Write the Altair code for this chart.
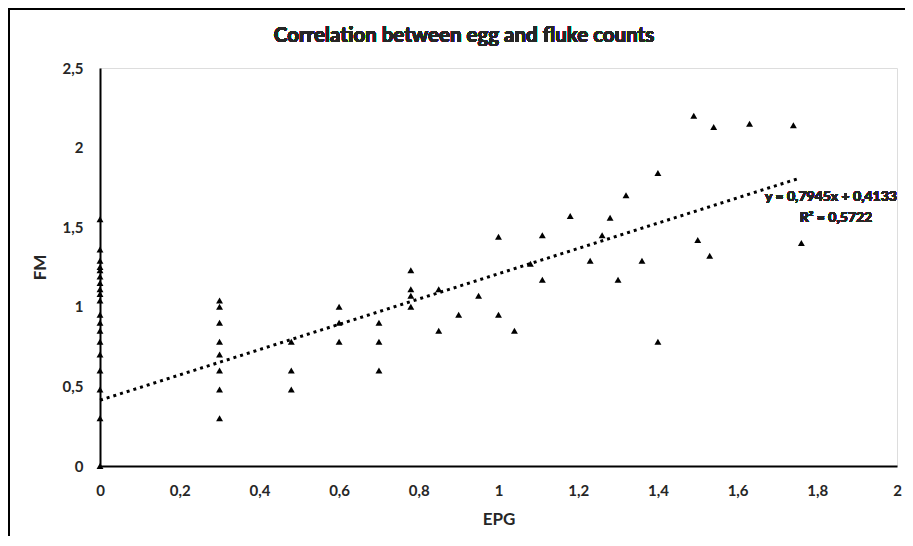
import altair as alt
import pandas as pd

# ---- data ----
EPG = ([0.0] * 19
       + [0.30] * 8
       + [0.48] * 3
       + [0.60] * 3
       + [0.70] * 3
       + [0.78] * 4
       + [0.85] * 2
       + [0.90, 0.95]
       + [1.00] * 2
       + [1.04, 1.08]
       + [1.11] * 2
       + [1.18, 1.23, 1.26, 1.28, 1.30, 1.32, 1.36]
       + [1.40] * 2
       + [1.49, 1.50, 1.53, 1.54, 1.63, 1.74, 1.76])
FM = ([1.55, 1.36, 1.29, 1.25, 1.23, 1.19, 1.15, 1.11, 1.08, 1.04,
       0.95, 0.90, 0.85, 0.78, 0.70, 0.60, 0.48, 0.30, 0.00]
      + [1.04, 1.00, 0.90, 0.78, 0.70, 0.60, 0.48, 0.30]
      + [0.78, 0.60, 0.48]
      + [1.00, 0.90, 0.78]
      + [0.90, 0.78, 0.60]
      + [1.23, 1.11, 1.07, 1.00]
      + [1.11, 0.85]
      + [0.95, 1.07]
      + [1.44, 0.95]
      + [0.85, 1.27]
      + [1.45, 1.17]
      + [1.57, 1.29, 1.45, 1.56, 1.17, 1.70, 1.29]
      + [1.84, 0.78]
      + [2.20, 1.42, 1.32, 2.13, 2.15, 2.14, 1.40])

SLOPE = 0.7945
INTERCEPT = 0.4133
TREND_X = [0.0, 1.755]

X_TICKS = [0, 0.2, 0.4, 0.6, 0.8, 1, 1.2, 1.4, 1.6, 1.8, 2]
Y_TICKS = [0, 0.5, 1, 1.5, 2, 2.5]

TITLE = "Correlation between egg and fluke counts"
X_TITLE = "EPG"
Y_TITLE = "FM"
EQ_LINE1 = "y = 0,7945x + 0,4133"
EQ_LINE2 = "R\u00b2 = 0,5722"

pts = pd.DataFrame({"EPG": EPG, "FM": FM})
trend = pd.DataFrame({"EPG": TREND_X, "FM": [SLOPE * x + INTERCEPT for x in TREND_X]})

FONT = "Lato"
TXT = "#262626"
LBL = "replace(format(datum.value, '.1~f'), '.', ',')"

xscale = alt.Scale(domain=[0, 2], nice=False)
yscale = alt.Scale(domain=[0, 2.5], nice=False)

common = dict(grid=False, ticks=False, tickSize=0, domainColor="black",
              domainWidth=2, labelFont=FONT, labelFontSize=15,
              labelFontWeight="bold", labelColor=TXT, labelPadding=17,
              titleFont=FONT, titleFontSize=17, titleFontWeight="bold",
              titleColor=TXT, labelFlush=False, labelOverlap=False)
xaxis = alt.Axis(values=X_TICKS, labelExpr=LBL, title=X_TITLE,
                 titlePadding=13, **common)
yaxis = alt.Axis(values=Y_TICKS, labelExpr=LBL, title=Y_TITLE,
                 titlePadding=13, **common)

points = alt.Chart(pts).mark_point(
    shape="triangle-up", filled=True, color="black", size=48, opacity=1
).encode(
    x=alt.X("EPG:Q", scale=xscale, axis=xaxis),
    y=alt.Y("FM:Q", scale=yscale, axis=yaxis),
)

line = alt.Chart(trend).mark_line(
    color="black", strokeWidth=3, strokeDash=[3, 4]
).encode(x=alt.X("EPG:Q", scale=xscale), y=alt.Y("FM:Q", scale=yscale))

eq1 = alt.Chart(pts).mark_text(
    text=EQ_LINE1, font=FONT, fontSize=14, fontWeight="bold", color=TXT,
    align="center", baseline="middle"
).encode(x=alt.value(731), y=alt.value(129))
eq2 = alt.Chart(pts).mark_text(
    text=EQ_LINE2, font=FONT, fontSize=14, fontWeight="bold", color=TXT,
    align="center", baseline="middle"
).encode(x=alt.value(736), y=alt.value(150))

title = alt.Chart(pts).mark_text(
    text=TITLE, font=FONT, fontSize=20.5, fontWeight="bold", color=TXT,
    align="center", baseline="middle"
).encode(x=alt.value(364), y=alt.value(-32))

frame_top = alt.Chart(pts).mark_rule(color="black", strokeWidth=2).encode(
    x=alt.value(-92), x2=alt.value(805), y=alt.value(-59), y2=alt.value(-59))
frame_left = alt.Chart(pts).mark_rule(color="black", strokeWidth=1.5).encode(
    x=alt.value(-91.2), x2=alt.value(-91.2), y=alt.value(-60), y2=alt.value(468))

chart = alt.layer(line, points, eq1, eq2, title, frame_top, frame_left).properties(
    width=797, height=398,
    autosize=alt.AutoSizeParams(type="none"),
    padding={"left": 92, "top": 60, "right": 8, "bottom": 70},
).configure_view(stroke=None).configure(background="white")

chart.save("out.html", embed_options={"renderer": "svg", "actions": False})
